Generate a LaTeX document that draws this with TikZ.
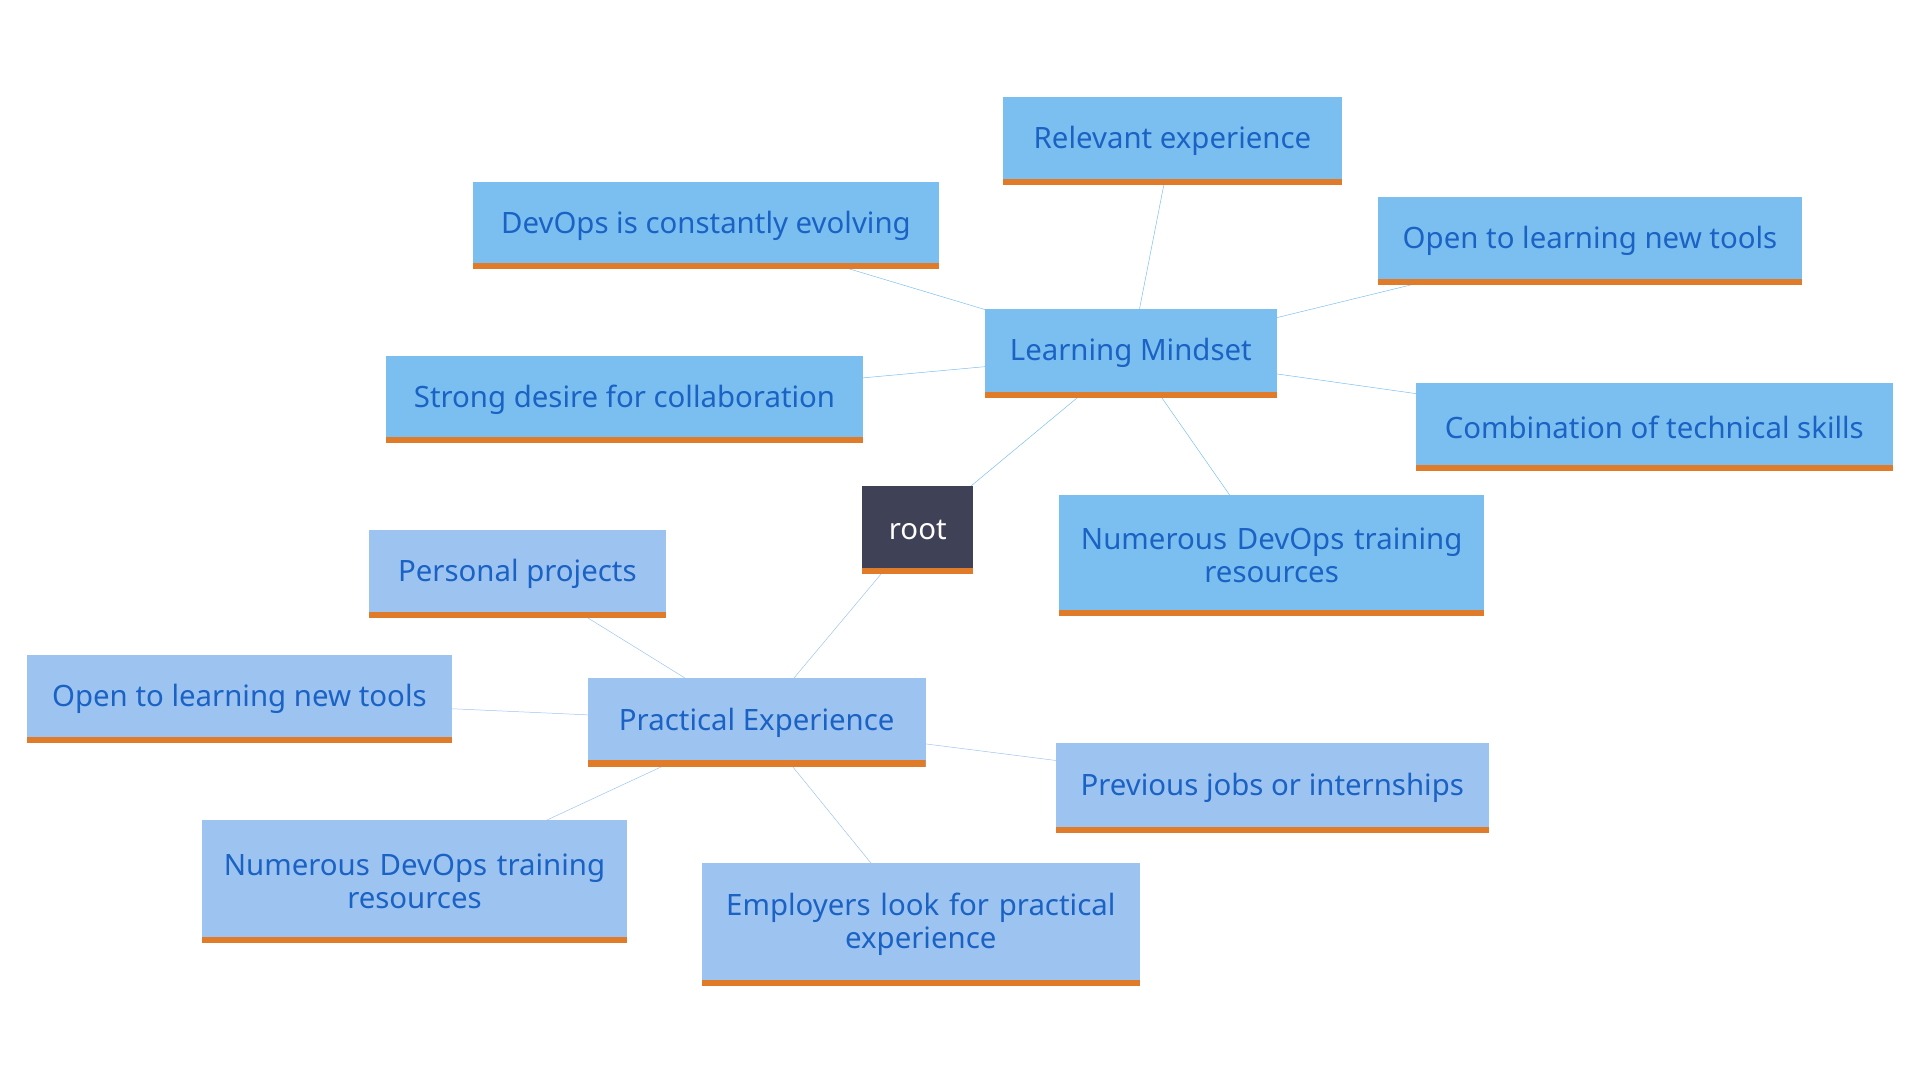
\documentclass[tikz,border=0pt]{standalone}
\usepackage{fontspec}
\setmainfont{Noto Sans}
\usetikzlibrary{backgrounds}
\definecolor{mindfill}{HTML}{7BBFF0}
\definecolor{pracfill}{HTML}{9DC3F0}
\definecolor{boxtext}{HTML}{1A62C4}
\definecolor{rootfill}{HTML}{3F4257}
\definecolor{under}{HTML}{E07B2A}
\begin{document}
\begin{tikzpicture}[x=1pt, y=-1pt, line width=5pt,
    box/.style = {rectangle, inner sep=0pt, align=center, text=boxtext,
      font=\fontsize{24}{27}\selectfont,
      path picture={\fill[under] (path picture bounding box.south west) rectangle ([yshift=5pt]path picture bounding box.south east);}},
    mind/.style = {box, fill=mindfill},
    prac/.style = {box, fill=pracfill}]
    \useasboundingbox (0,0) rectangle (1568,882);
    % nodi
    \node[box, fill=rootfill, text=white, minimum width=91pt, minimum height=72pt] (root) at (749.5,433) {root};
    \node[mind, minimum width=239pt, minimum height=73pt] (lm) at (923.5,288.5) {Learning Mindset};
    \node[mind, minimum width=277pt, minimum height=72pt] (rel) at (957.5,115) {Relevant experience};
    \node[mind, minimum width=381pt, minimum height=71pt] (evo) at (576.5,184.5) {DevOps is constantly evolving};
    \node[mind, minimum width=347pt, minimum height=72pt] (opt) at (1298.5,197) {Open to learning new tools};
    \node[mind, minimum width=390pt, minimum height=71pt] (col) at (510,326.5) {Strong desire for collaboration};
    \node[mind, minimum width=390pt, minimum height=72pt] (comb) at (1351,349) {Combination of technical skills};
    \node[mind, minimum width=347pt, minimum height=99pt, text width=330pt] (numt) at (1038.5,453.5) {Numerous DevOps training\\resources};
    \node[prac, minimum width=276pt, minimum height=72pt] (pe) at (618,590) {Practical Experience};
    \node[prac, minimum width=243pt, minimum height=72pt] (pers) at (422.5,469) {Personal projects};
    \node[prac, minimum width=347pt, minimum height=72pt] (opl) at (195.5,571) {Open to learning new tools};
    \node[prac, minimum width=354pt, minimum height=73pt] (prev) at (1039,643.5) {Previous jobs or internships};
    \node[prac, minimum width=347pt, minimum height=100pt, text width=330pt] (numb) at (338.5,720) {Numerous DevOps training\\resources};
    \node[prac, minimum width=358pt, minimum height=100pt, text width=340pt] (emp) at (752,755) {Employers look for practical\\experience};

    % collegamenti
    \begin{scope}[on background layer]
    \draw[mindfill] (root.center) -- (lm.center);
    \foreach \n in {rel, evo, opt, col, comb, numt}
      \draw[mindfill] (lm.center) -- (\n.center);
    \draw[pracfill] (root.center) -- (pe.center);
    \foreach \n in {pers, opl, prev, numb, emp}
      \draw[pracfill] (pe.center) -- (\n.center);
    \end{scope}
\end{tikzpicture}
\end{document}
